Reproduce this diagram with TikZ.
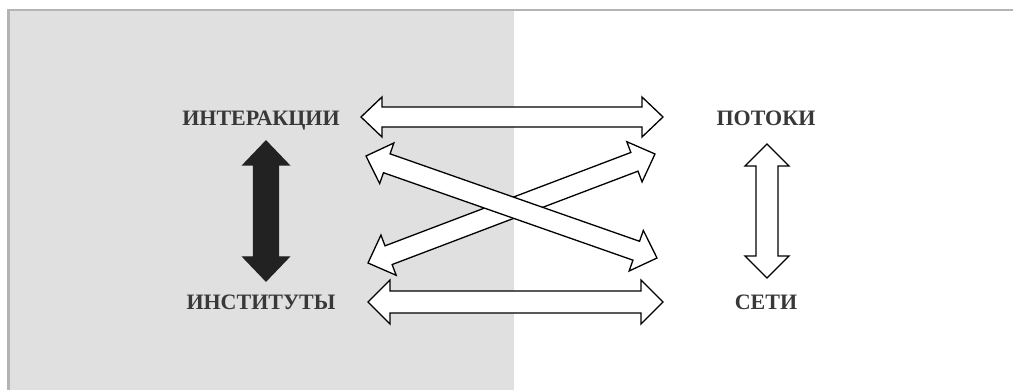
\documentclass[tikz,border=0pt]{standalone}
\usepackage{fontspec}
\setmainfont{Liberation Serif}
\usetikzlibrary{calc}

\definecolor{panelgrey}{HTML}{E0E0E0}
\definecolor{framegrey}{HTML}{B4B4B4}
\definecolor{textgrey}{HTML}{383838}
\definecolor{darkarrow}{HTML}{222222}

% block double arrow: #1 fill, #2 from, #3 to, #4 half shaft, #5 half head, #6 head length
\newcommand\blockarrow[6]{%
\coordinate (ha) at ($(#2)!#6!(#3)$);
\coordinate (hb) at ($(#3)!#6!(#2)$);
\draw[fill=#1] (#2) -- ($(ha)!#5!90:(#3)$) -- ($(ha)!#4!90:(#3)$)
  -- ($(hb)!#4!-90:(#2)$) -- ($(hb)!#5!-90:(#2)$) -- (#3)
  -- ($(hb)!#5!90:(#2)$) -- ($(hb)!#4!90:(#2)$)
  -- ($(ha)!#4!-90:(#3)$) -- ($(ha)!#5!-90:(#3)$) -- cycle;
}

\begin{document}
\begin{tikzpicture}[x=1pt,y=-1pt,line width=1.3pt,line join=miter,
  lbl/.style={font=\fontsize{22}{24}\selectfont\bfseries,text=textgrey,inner sep=0pt,anchor=base}]
\useasboundingbox (0,0) rectangle (1013,390);

\fill[panelgrey] (9,10) rectangle (514,390);

\draw[framegrey,line width=2.5pt] (8.5,390) -- (8.5,10) -- (1013,10);

\node[lbl] (inter) at (261,126) {ИНТЕРАКЦИИ};

\node[lbl] (inst) at (261,310) {ИНСТИТУТЫ};

\node[lbl] (flow) at (766,126) {ПОТОКИ};

\node[lbl] (net) at (766,310) {СЕТИ};

\coordinate (a1) at (361,117);
\coordinate (a2) at (663,117);
\coordinate (b1) at (368,302);
\coordinate (b2) at (663,302);
\coordinate (c1) at (366,156);
\coordinate (c2) at (657,258);
\coordinate (d1) at (368,263);
\coordinate (d2) at (655,154);
\coordinate (e1) at (266,141);
\coordinate (e2) at (266,281);
\coordinate (f1) at (767,144);
\coordinate (f2) at (767,278);

\blockarrow{white}{a1}{a2}{10pt}{20pt}{21pt}

\blockarrow{white}{b1}{b2}{11pt}{22pt}{22pt}

\blockarrow{white}{d1}{d2}{10pt}{21.5pt}{22pt}

\blockarrow{white}{c1}{c2}{10pt}{21.5pt}{22pt}

\begin{scope}[darkarrow]
\blockarrow{darkarrow}{e1}{e2}{12.5pt}{23pt}{24pt}
\end{scope}

\blockarrow{white}{f1}{f2}{11pt}{22pt}{22pt}

\end{tikzpicture}
\end{document}
